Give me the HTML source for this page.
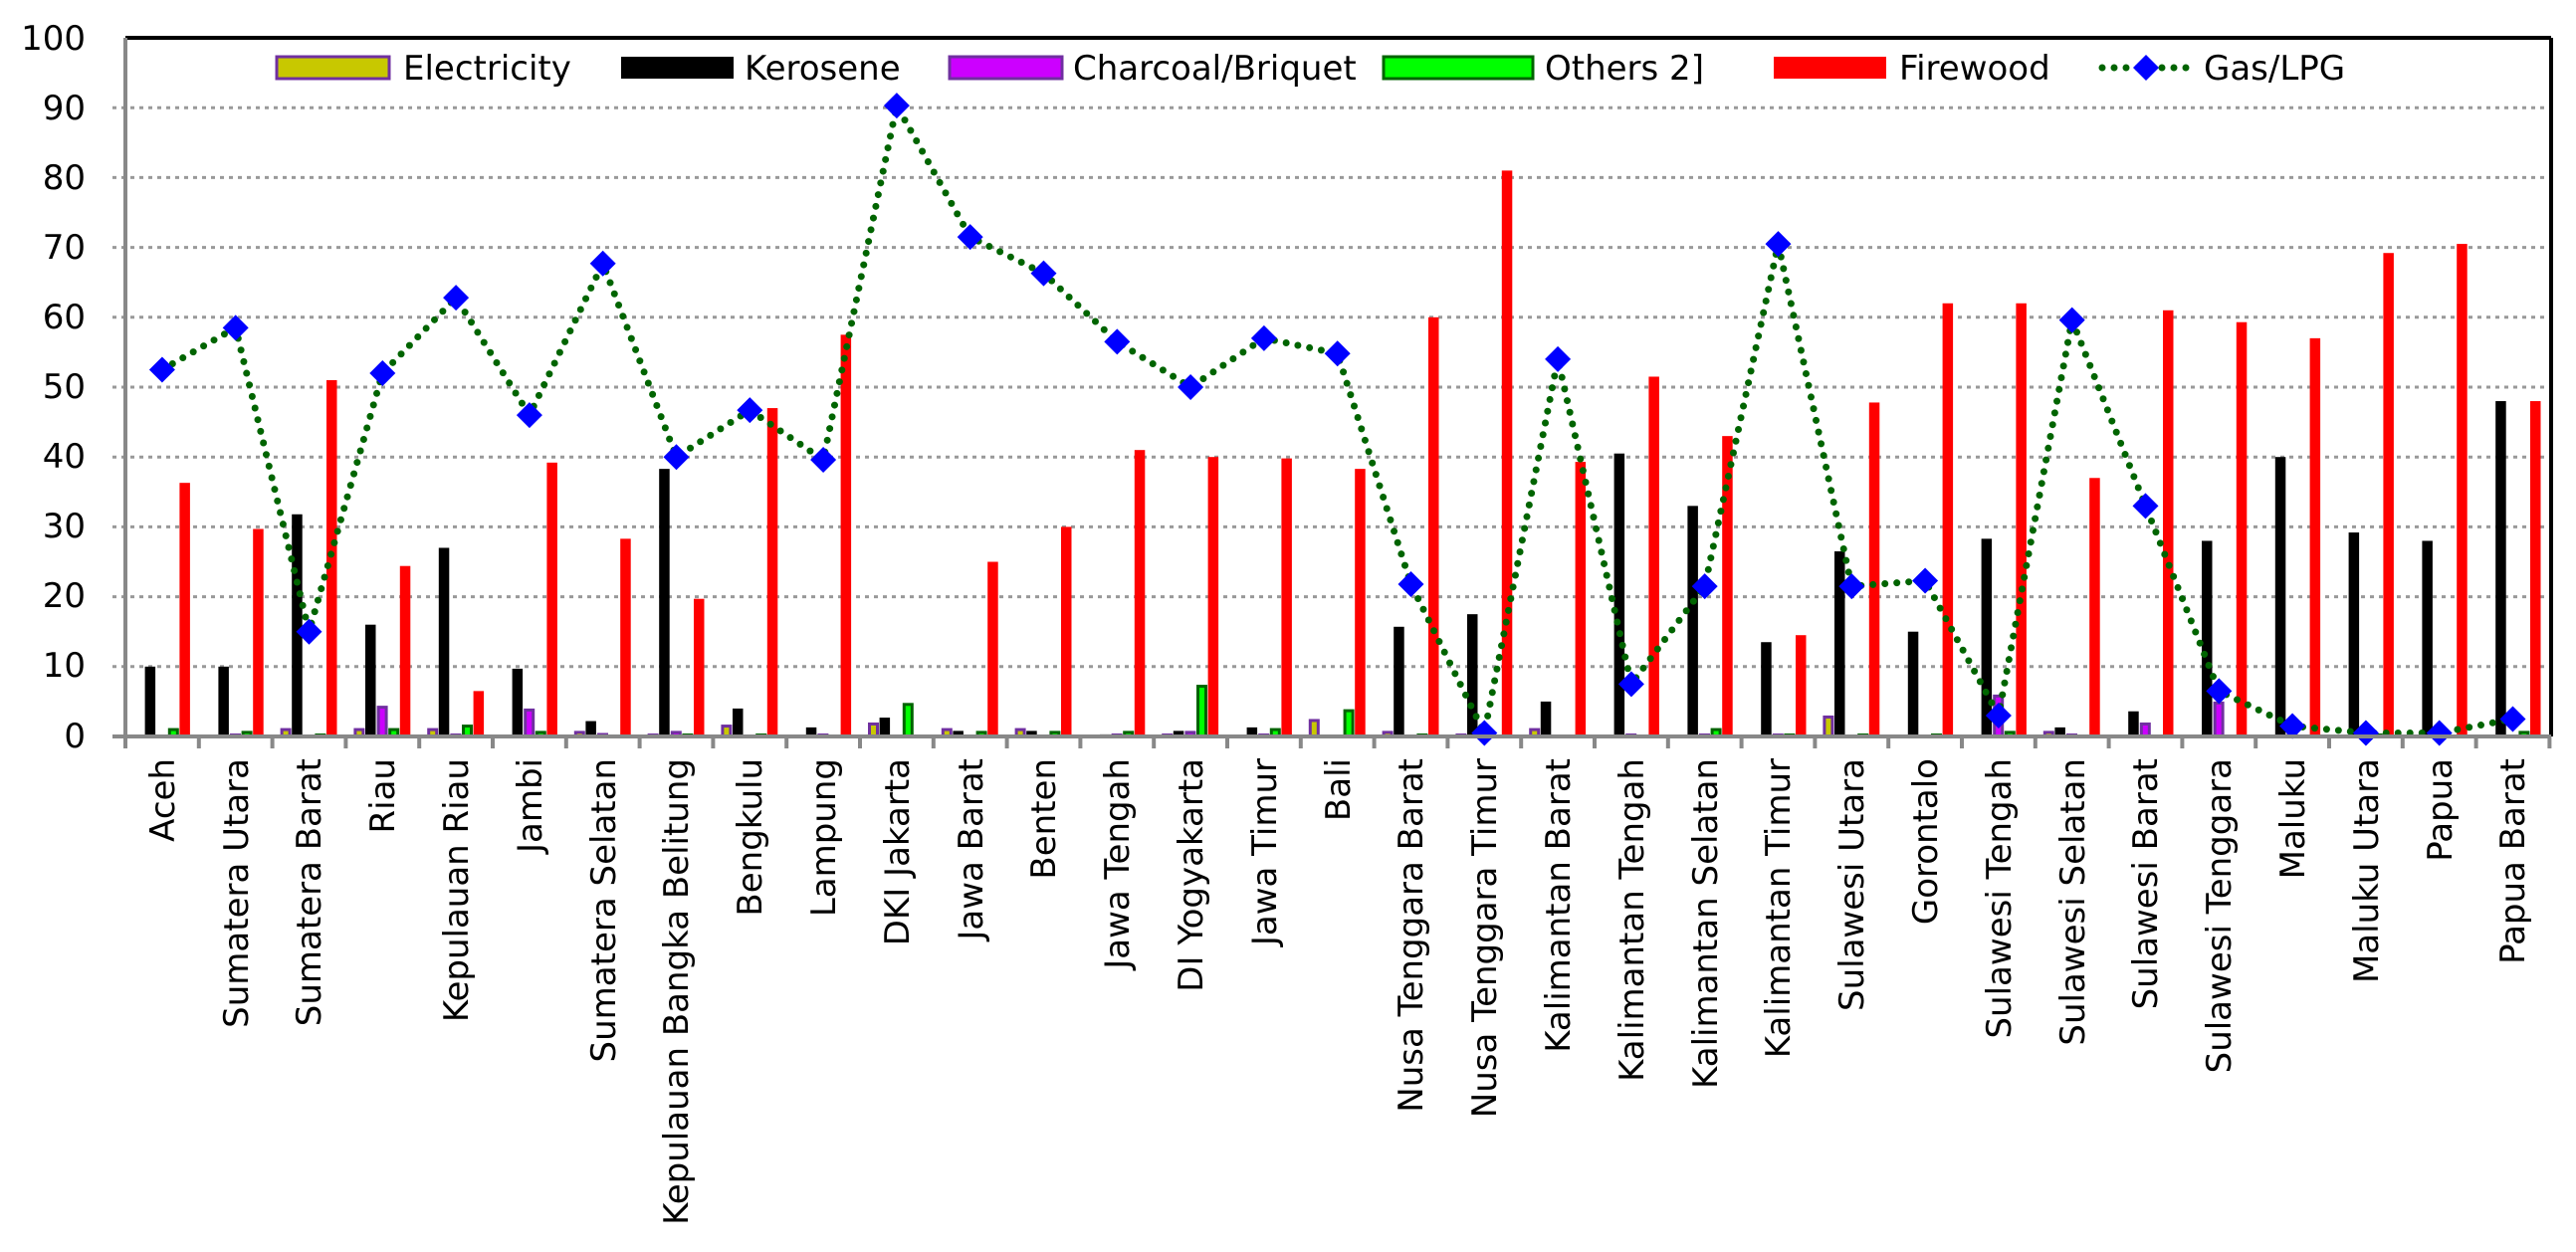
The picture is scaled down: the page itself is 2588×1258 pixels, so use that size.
<!DOCTYPE html>
<html><head><meta charset="utf-8"><style>
html,body{margin:0;padding:0;background:#fff;}
svg{display:block;font-family:"DejaVu Sans","Liberation Sans",sans-serif;}
</style></head><body>
<svg id="c" width="2588" height="1258" viewBox="0 0 2588 1258" xmlns="http://www.w3.org/2000/svg">
<rect width="2588" height="1258" fill="#fff"/>
<g id="grid" stroke="#999" stroke-width="3" stroke-dasharray="4,5"></g>
<g id="bars"></g>
<g id="line"></g>
<line x1="126" y1="38" x2="2563" y2="38" stroke="#000" stroke-width="4"/>
<line x1="2563" y1="38" x2="2563" y2="740" stroke="#000" stroke-width="4"/>
<line x1="126" y1="38" x2="126" y2="740" stroke="#888" stroke-width="4"/>
<line x1="113" y1="740" x2="2563" y2="740" stroke="#888" stroke-width="4"/>
<g id="ticks" stroke="#888" stroke-width="4"></g>
<g font-size="34" text-anchor="end" fill="#000">
<text x="86" y="50">100</text><text x="86" y="120">90</text><text x="86" y="190">80</text>
<text x="86" y="260">70</text><text x="86" y="330">60</text><text x="86" y="400">50</text>
<text x="86" y="470">40</text><text x="86" y="540">30</text><text x="86" y="610">20</text>
<text x="86" y="680">10</text><text x="86" y="751">0</text>
</g>
<g font-size="34" text-anchor="end" fill="#000">
<text transform="translate(175,762) rotate(-90)">Aceh</text>
<text transform="translate(249,762) rotate(-90)">Sumatera Utara</text>
<text transform="translate(322,762) rotate(-90)">Sumatera Barat</text>
<text transform="translate(396,762) rotate(-90)">Riau</text>
<text transform="translate(470,762) rotate(-90)">Kepulauan Riau</text>
<text transform="translate(544,762) rotate(-90)">Jambi</text>
<text transform="translate(618,762) rotate(-90)">Sumatera Selatan</text>
<text transform="translate(691,762) rotate(-90)">Kepulauan Bangka  Belitung</text>
<text transform="translate(765,762) rotate(-90)">Bengkulu</text>
<text transform="translate(839,762) rotate(-90)">Lampung</text>
<text transform="translate(913,762) rotate(-90)">DKI Jakarta</text>
<text transform="translate(987,762) rotate(-90)">Jawa Barat</text>
<text transform="translate(1060,762) rotate(-90)">Benten</text>
<text transform="translate(1134,762) rotate(-90)">Jawa Tengah</text>
<text transform="translate(1208,762) rotate(-90)">DI Yogyakarta</text>
<text transform="translate(1282,762) rotate(-90)">Jawa Timur</text>
<text transform="translate(1356,762) rotate(-90)">Bali</text>
<text transform="translate(1429,762) rotate(-90)">Nusa Tenggara Barat</text>
<text transform="translate(1503,762) rotate(-90)">Nusa Tenggara Timur</text>
<text transform="translate(1577,762) rotate(-90)">Kalimantan Barat</text>
<text transform="translate(1651,762) rotate(-90)">Kalimantan Tengah</text>
<text transform="translate(1725,762) rotate(-90)">Kalimantan Selatan</text>
<text transform="translate(1798,762) rotate(-90)">Kalimantan Timur</text>
<text transform="translate(1872,762) rotate(-90)">Sulawesi Utara</text>
<text transform="translate(1946,762) rotate(-90)">Gorontalo</text>
<text transform="translate(2020,762) rotate(-90)">Sulawesi Tengah</text>
<text transform="translate(2094,762) rotate(-90)">Sulawesi Selatan</text>
<text transform="translate(2167,762) rotate(-90)">Sulawesi Barat</text>
<text transform="translate(2241,762) rotate(-90)">Sulawesi Tenggara</text>
<text transform="translate(2315,762) rotate(-90)">Maluku</text>
<text transform="translate(2389,762) rotate(-90)">Maluku Utara</text>
<text transform="translate(2463,762) rotate(-90)">Papua</text>
<text transform="translate(2536,762) rotate(-90)">Papua Barat</text>
</g>
<g font-size="34" fill="#000">
<rect x="278" y="57" width="113" height="22" fill="#c8c800" stroke="#7030a0" stroke-width="3"/>
<text x="405" y="80">Electricity</text>
<rect x="624" y="57" width="113" height="22" fill="#000"/>
<text x="748" y="80">Kerosene</text>
<rect x="954" y="57" width="113" height="22" fill="#cc00ff" stroke="#7030a0" stroke-width="3"/>
<text x="1078" y="80">Charcoal/Briquet</text>
<rect x="1390" y="57" width="150" height="22" fill="#00ff00" stroke="#006400" stroke-width="3"/>
<text x="1552" y="80">Others  2]</text>
<rect x="1782" y="57" width="113" height="22" fill="#ff0000"/>
<text x="1908" y="80">Firewood</text>
<line x1="2112" y1="68" x2="2200" y2="68" stroke="#006400" stroke-width="7" stroke-linecap="round" stroke-dasharray="0,12"/>
<polygon points="2156,55 2169,68 2156,81 2143,68" fill="#0000ff"/>
<text x="2214" y="80">Gas/LPG</text>
</g>
<script>
(function(){
var NS="http://www.w3.org/2000/svg";
function el(p,t,a){var e=document.createElementNS(NS,t);for(var k in a)e.setAttribute(k,a[k]);p.appendChild(e);return e;}
var y0=740,s=7.02,L=126,st=73.8;
function Y(v){return y0-v*s;}
var g=document.getElementById('grid');
for(var v=10;v<100;v+=10){el(g,'line',{x1:113,x2:2560,y1:Y(v),y2:Y(v)});}
var tk=document.getElementById('ticks');
for(var i=0;i<=33;i++){var x=L+st*i;el(tk,'line',{x1:x,x2:x,y1:740,y2:752});}
var D=[[0,10,0,1.2,36.3,52.5],[0,10,0.3,0.8,29.7,58.5],[1.2,31.8,0,0.3,51,15],[1.2,16,4.4,1.2,24.4,52],[1.2,27,0.3,1.7,6.5,62.8],[0,9.7,4,0.8,39.2,46],[0.8,2.2,0.5,0,28.3,67.7],[0.3,38.3,0.8,0.3,19.7,40],[1.7,4,0,0.3,47,46.7],[0,1.3,0.3,0,57.5,39.6],[2,2.7,0,4.8,0,90.3],[1.2,0.8,0,0.8,25,71.5],[1.2,0.8,0,0.8,30,66.3],[0,0.3,0.3,0.8,41,56.5],[0.3,0.8,0.8,7.4,40,50],[0,1.3,0.3,1.2,39.8,57],[2.5,0,0,3.9,38.3,54.8],[0.8,15.7,0,0.3,60,21.8],[0.3,17.5,0.8,0,81,0.5],[1.2,5,0,0,39.3,54],[0,40.5,0.3,0,51.5,7.5],[0,33,0.3,1.2,43,21.5],[0,13.5,0.3,0.3,14.5,70.5],[3,26.5,0,0.3,47.8,21.5],[0,15,0,0.3,62,22.3],[0,28.3,6,0.8,62,3],[0.8,1.3,0.3,0,37,59.6],[0,3.6,2,0,61,33],[0,28,5,0,59.3,6.5],[0,40,0.3,0,57,1.5],[0,29.2,0,0.3,69.2,0.5],[0,28,0,0,70.5,0.5],[0,48,0,0.8,48,2.5]];
var fill=['#c8c800','#000','#cc00ff','#00ff00','#ff0000'];
var strk=['#7030a0',null,'#7030a0','#006400',null];
var b=document.getElementById('bars');
var pts=[];
for(var i=0;i<33;i++){var gx=L+st*i;
 for(var j=0;j<5;j++){var v=D[i][j];if(v<=0)continue;var x=gx+8+j*11.6;var h=v*s;
  if(strk[j]){if(h<3)h=3;el(b,'rect',{x:x+1.5,y:y0-h+1.5,width:8,height:Math.max(h-1.5,1.5),fill:fill[j],stroke:strk[j],'stroke-width':3});}
  else el(b,'rect',{x:x,y:y0-h,width:10.5,height:h,fill:fill[j]});}
 pts.push([gx+st/2,Y(D[i][5])]);}
var ln=document.getElementById('line');
el(ln,'polyline',{points:pts.map(function(p){return p.join(',')}).join(' '),fill:'none',stroke:'#006400','stroke-width':7,'stroke-linecap':'round','stroke-dasharray':'0,12'});
pts.forEach(function(p){el(ln,'polygon',{points:(p[0])+','+(p[1]-13)+' '+(p[0]+13)+','+p[1]+' '+p[0]+','+(p[1]+13)+' '+(p[0]-13)+','+p[1],fill:'#0000ff'});});
})();
</script>
</svg>
</body></html>
